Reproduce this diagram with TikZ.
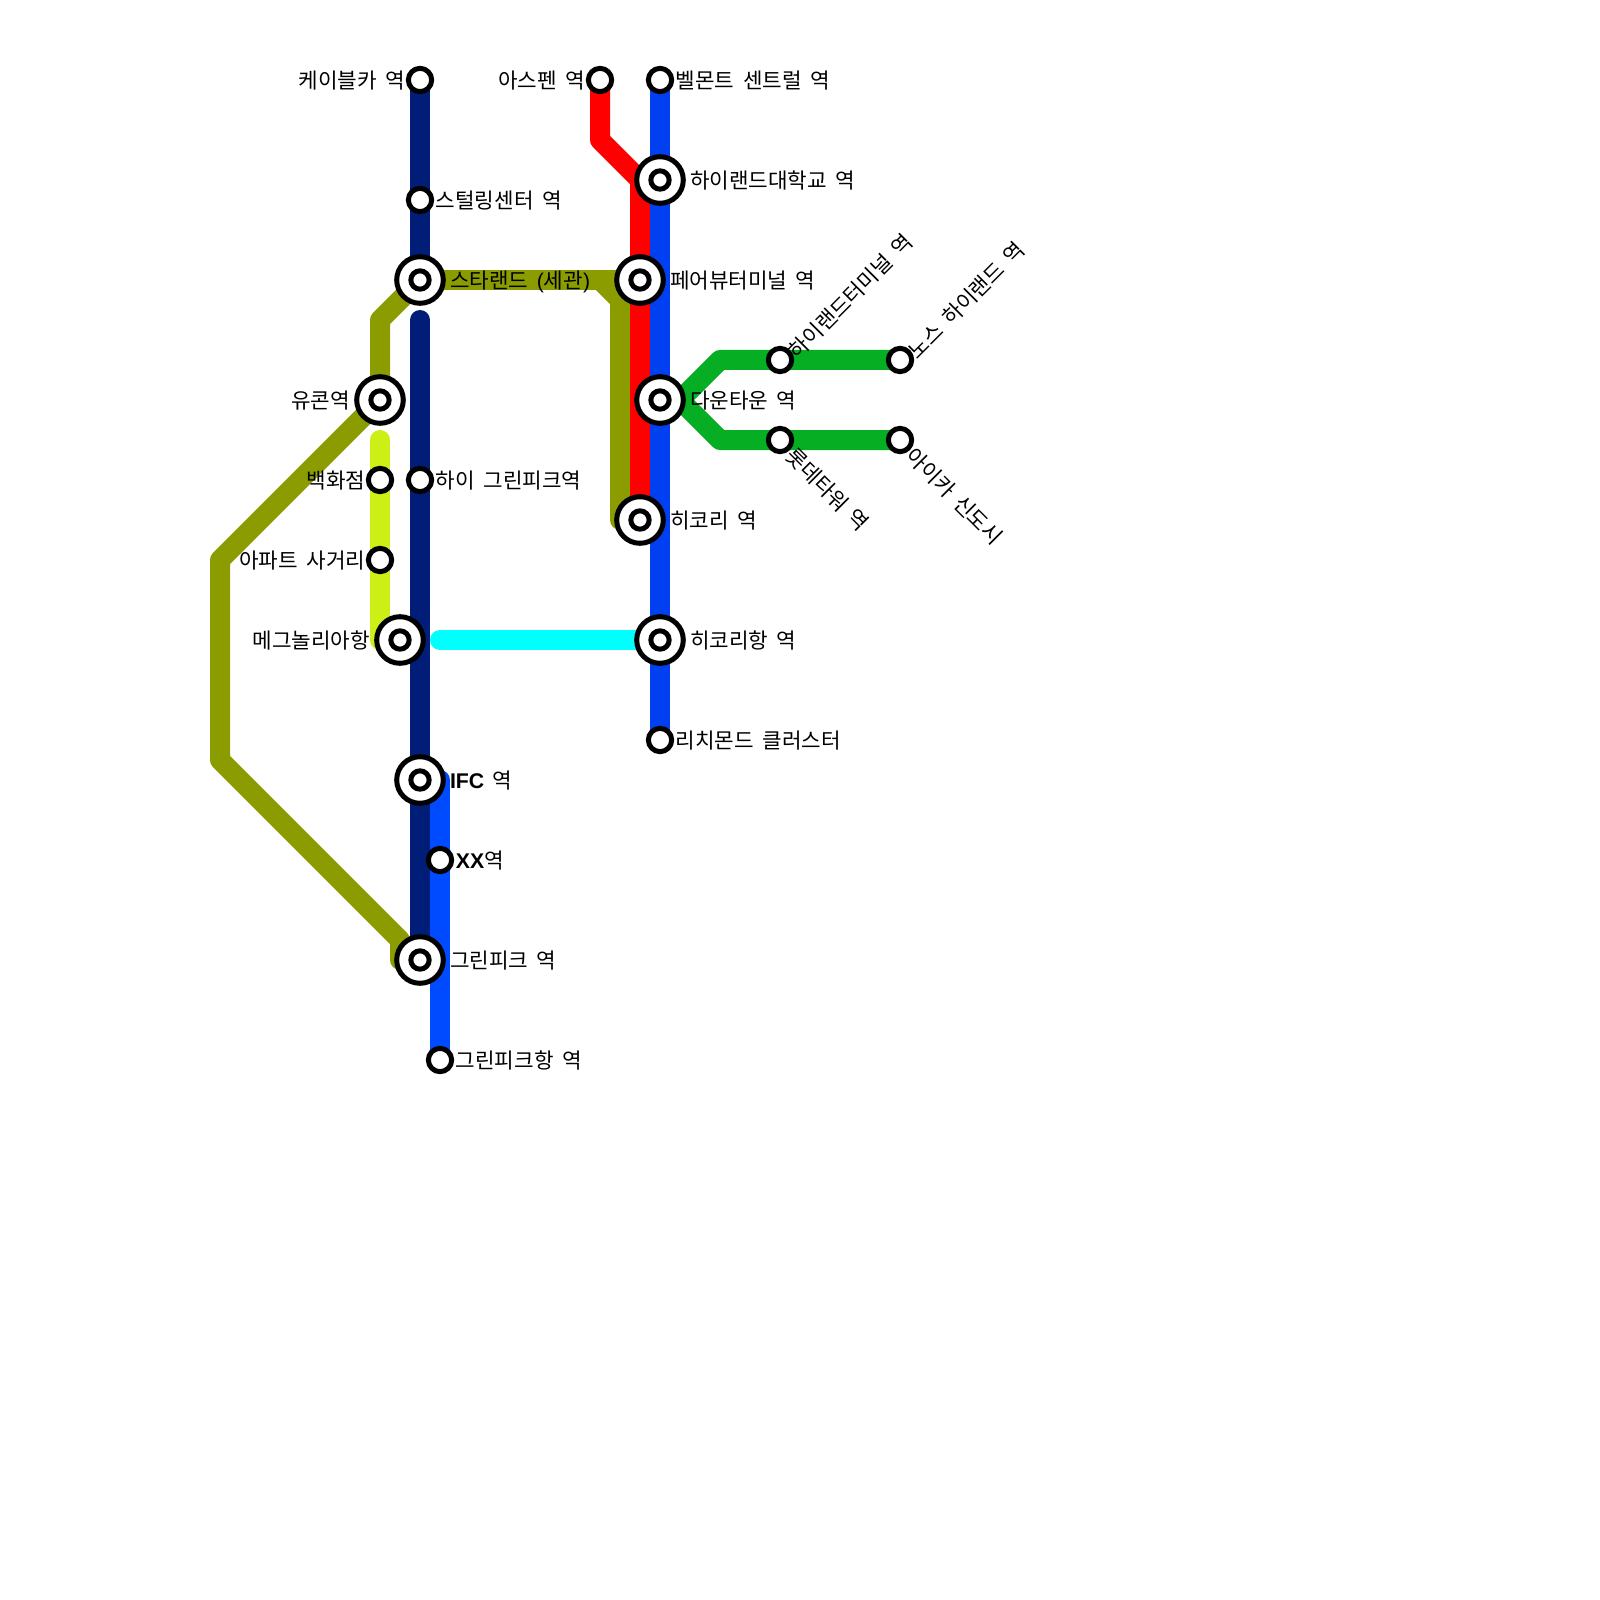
\documentclass[tikz,border=0pt]{standalone}
\usepackage{fontspec}
\setmainfont{Liberation Sans}
\newfontfamily\krfont[WordSpace=1.8]{Noto Sans CJK KR}
\usetikzlibrary{positioning,backgrounds}
\definecolor{navyline}{HTML}{001E78}
\definecolor{blueline}{HTML}{0040F0}
\definecolor{skyline}{HTML}{004BFF}
\definecolor{olive}{HTML}{8B9C00}
\definecolor{lime}{HTML}{CCF015}
\definecolor{aqua}{HTML}{00FFFF}
\definecolor{redline}{HTML}{FF0000}
\definecolor{greenline}{HTML}{05AE22}
\tikzset{
    metro/.style={line width=2mm,line cap=round,line join=round},
    stn/.style={circle,draw=black,fill=white,line width=.5mm,minimum size=2.33mm,inner sep=0pt},
    hub/.style={stn,minimum size=4.66mm,path picture={
        \draw[line width=.5mm] (path picture bounding box.center) circle (.917mm);}},
    lbl/.style={inner sep=0pt,font=\fontsize{6.05pt}{7pt}\selectfont\krfont,text height=1.85mm,text depth=.15mm}
}
\begin{document}
\begin{tikzpicture}[x=2mm,y=-2mm]
    \useasboundingbox (0,0) rectangle (80,80);
    % Estaciones
    \node[stn] (cablecar) at (21,4) {};
    \node[stn] (sterling) at (21,10) {};
    \node[hub] (strand) at (21,14) {};
    \node[stn] (aspen) at (30,4) {};
    \node[stn] (belmont) at (33,4) {};
    \node[hub] (univ) at (33,9) {};
    \node[hub] (ferry) at (32,14) {};
    \node[hub] (downtown) at (33,20) {};
    \node[hub] (hickory) at (32,26) {};
    \node[hub] (hickoryport) at (33,32) {};
    \node[stn] (richmond) at (33,37) {};
    \node[hub] (yukon) at (19,20) {};
    \node[stn] (dept) at (19,24) {};
    \node[stn] (apt) at (19,28) {};
    \node[hub] (magnolia) at (20,32) {};
    \node[stn] (higreen) at (21,24) {};
    \node[hub] (ifc) at (21,39) {};
    \node[stn] (xx) at (22,43) {};
    \node[hub] (greenpeak) at (21,48) {};
    \node[stn] (greenport) at (22,53) {};
    \node[stn] (terminal) at (39,18) {};
    \node[stn] (north) at (45,18) {};
    \node[stn] (lotte) at (39,22) {};
    \node[stn] (aika) at (45,22) {};
    % Lineas
    \begin{scope}[on background layer]
        \coordinate (navystart) at (21,16);
        \coordinate (limestart) at (19,22);
        \coordinate (aquastart) at (22,32);
        \coordinate (skystart) at (22,39);
        \draw[metro,navyline] (cablecar.center) -- (strand.center);
        \draw[metro,navyline] (navystart) -- (greenpeak.center);
        \draw[metro,skyline] (skystart) -- (greenport.center);
        \draw[metro,lime] (limestart) -- (19,32) -- (magnolia.center);
        \draw[metro,aqua] (aquastart) -- (hickoryport.center);
        \draw[metro,olive] (strand.center) -- (ferry.center);
        \draw[metro,olive] (30,14) -- (31,15) -- (31,26) -- (hickory.center);
        \draw[metro,olive] (strand.center) -- (19,16) -- (yukon.center) -- (11,28) -- (11,38) -- (20,47) -- (20,48) -- (greenpeak.center);
        \draw[metro,redline] (aspen.center) -- (30,7) -- (32,9) -- (hickory.center);
        \draw[metro,blueline] (belmont.center) -- (richmond.center);
        \draw[metro,greenline] (downtown.center) -- (34,20) -- (36,18) -- (north.center);
        \draw[metro,greenline] (downtown.center) -- (34,20) -- (36,22) -- (aika.center);
    \end{scope}
    % Rotulos
    \node[lbl,left=0mm of cablecar] (cablecarlbl) {케이블카 역};
    \node[lbl,right=.1mm of sterling] (sterlinglbl) {스털링센터 역};
    \node[lbl,right=.35mm of strand] (strandlbl) {스타랜드 {\rmfamily(}세관{\rmfamily)}};
    \node[lbl,left=0mm of aspen] (aspenlbl) {아스펜 역};
    \node[lbl,right=.1mm of belmont] (belmontlbl) {벨몬트 센트럴 역};
    \node[lbl,right=.35mm of univ] (univlbl) {하이랜드대학교 역};
    \node[lbl,right=.35mm of ferry] (ferrylbl) {페어뷰터미널 역};
    \node[lbl,right=.35mm of downtown] (downtownlbl) {다운타운 역};
    \node[lbl,right=.35mm of hickory] (hickorylbl) {히코리 역};
    \node[lbl,right=.35mm of hickoryport] (hickoryportlbl) {히코리항 역};
    \node[lbl,right=.1mm of richmond] (richmondlbl) {리치몬드 클러스터};
    \node[lbl,left=.35mm of yukon] (yukonlbl) {유콘역};
    \node[lbl,left=0mm of dept] (deptlbl) {백화점};
    \node[lbl,left=0mm of apt] (aptlbl) {아파트 사거리};
    \node[lbl,left=.35mm of magnolia] (magnolialbl) {메그놀리아항};
    \node[lbl,right=.1mm of higreen] (higreenlbl) {하이 그린피크역};
    \node[lbl,right=.35mm of ifc] (ifclbl) {{\rmfamily\bfseries IFC} 역};
    \node[lbl,right=.1mm of xx] (xxlbl) {{\rmfamily\bfseries XX}역};
    \node[lbl,right=.35mm of greenpeak] (greenpeaklbl) {그린피크 역};
    \node[lbl,right=.1mm of greenport] (greenportlbl) {그린피크항 역};
    \node[lbl,rotate=45,anchor=west] (terminallbl) at ([xshift=1.1mm,yshift=.5mm]terminal.center) {하이랜드터미널 역};
    \node[lbl,rotate=45,anchor=west] (northlbl) at ([xshift=1.1mm,yshift=.5mm]north.center) {노스 하이랜드 역};
    \node[lbl,rotate=-45,anchor=west] (lottelbl) at ([xshift=1mm,yshift=-1.1mm]lotte.center) {롯데타워 역};
    \node[lbl,rotate=-45,anchor=west] (aikalbl) at ([xshift=1mm,yshift=-1.1mm]aika.center) {아이카 신도시};
\end{tikzpicture}
\end{document}
